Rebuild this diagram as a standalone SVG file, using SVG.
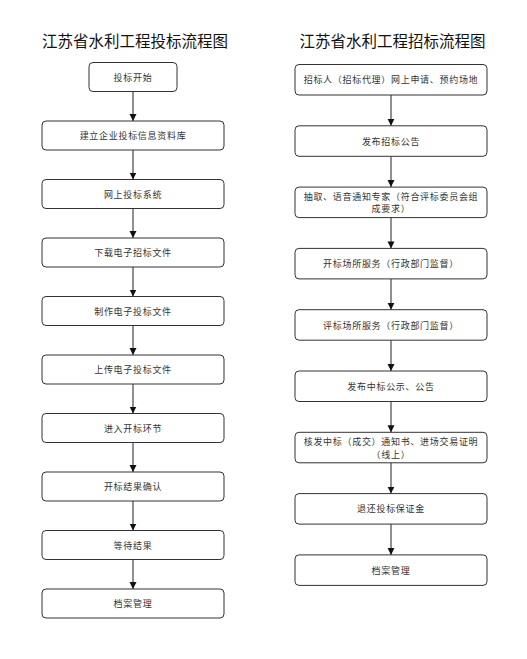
<svg xmlns="http://www.w3.org/2000/svg" width="527" height="659" viewBox="0 0 527 659">
<defs>
<style>
.t{font-family:"Noto Sans CJK SC","Noto Sans",sans-serif;font-size:15.5px;fill:#111;text-anchor:middle;dominant-baseline:central}
.b rect{fill:#fff;stroke:#333;stroke-width:1}
.b text{font-family:"Noto Sans CJK SC","Noto Sans",sans-serif;font-size:9px;letter-spacing:0.7px;fill:#333;text-anchor:middle;dominant-baseline:central}
.c line{stroke:#222;stroke-width:1;marker-end:url(#ah)}
</style>
<marker id="ah" markerUnits="userSpaceOnUse" markerWidth="8" markerHeight="8" refX="7" refY="3.5" orient="auto">
<path d="M0,0 L7,3.5 L0,7 z" fill="#111"/>
</marker>
</defs>
<rect width="527" height="659" fill="#fff"/>
<text class="t" x="135" y="40">江苏省水利工程投标流程图</text>
<text class="t" x="392.5" y="40">江苏省水利工程招标流程图</text>

<g id="connectors" class="c">
<line x1="133" y1="91.5" x2="133" y2="121"/>
<line x1="133" y1="150" x2="133" y2="179.5"/>
<line x1="133" y1="208.5" x2="133" y2="238"/>
<line x1="133" y1="267" x2="133" y2="296.5"/>
<line x1="133" y1="325.5" x2="133" y2="355"/>
<line x1="133" y1="384" x2="133" y2="413.5"/>
<line x1="133" y1="442.5" x2="133" y2="472"/>
<line x1="133" y1="501" x2="133" y2="530.5"/>
<line x1="133" y1="559.5" x2="133" y2="589"/>
<line x1="391" y1="95" x2="391" y2="125.8"/>
<line x1="391" y1="156.3" x2="391" y2="187.1"/>
<line x1="391" y1="217.6" x2="391" y2="248.4"/>
<line x1="391" y1="278.9" x2="391" y2="309.7"/>
<line x1="391" y1="340.2" x2="391" y2="371"/>
<line x1="391" y1="401.5" x2="391" y2="432.3"/>
<line x1="391" y1="462.8" x2="391" y2="493.6"/>
<line x1="391" y1="524.1" x2="391" y2="554.9"/>
</g>

<g id="L1" class="b"><rect x="89" y="62.5" width="88" height="29" rx="4"/><text x="133" y="77">投标开始</text></g>
<g id="L2" class="b"><rect x="42" y="121" width="182" height="29" rx="4"/><text x="133" y="135.5">建立企业投标信息资料库</text></g>
<g id="L3" class="b"><rect x="42" y="179.5" width="182" height="29" rx="4"/><text x="133" y="194">网上投标系统</text></g>
<g id="L4" class="b"><rect x="42" y="238" width="182" height="29" rx="4"/><text x="133" y="252.5">下载电子招标文件</text></g>
<g id="L5" class="b"><rect x="42" y="296.5" width="182" height="29" rx="4"/><text x="133" y="311">制作电子投标文件</text></g>
<g id="L6" class="b"><rect x="42" y="355" width="182" height="29" rx="4"/><text x="133" y="369.5">上传电子投标文件</text></g>
<g id="L7" class="b"><rect x="42" y="413.5" width="182" height="29" rx="4"/><text x="133" y="428">进入开标环节</text></g>
<g id="L8" class="b"><rect x="42" y="472" width="182" height="29" rx="4"/><text x="133" y="486.5">开标结果确认</text></g>
<g id="L9" class="b"><rect x="42" y="530.5" width="182" height="29" rx="4"/><text x="133" y="545">等待结果</text></g>
<g id="L10" class="b"><rect x="42" y="589" width="182" height="29" rx="4"/><text x="133" y="603.5">档案管理</text></g>

<g id="R1" class="b"><rect x="295" y="64.5" width="192" height="30.5" rx="4"/><text x="391" y="79.8">招标人（招标代理）网上申请、预约场地</text></g>
<g id="R2" class="b"><rect x="295" y="125.8" width="192" height="30.5" rx="4"/><text x="391" y="141">发布招标公告</text></g>
<g id="R3" class="b"><rect x="295" y="187.1" width="192" height="30.5" rx="4"/><text x="391" y="196.1">抽取、语音通知专家（符合评标委员会组</text><text x="391" y="208.9">成要求）</text></g>
<g id="R4" class="b"><rect x="295" y="248.4" width="192" height="30.5" rx="4"/><text x="391" y="263.6">开标场所服务（行政部门监督）</text></g>
<g id="R5" class="b"><rect x="295" y="309.7" width="192" height="30.5" rx="4"/><text x="391" y="325">评标场所服务（行政部门监督）</text></g>
<g id="R6" class="b"><rect x="295" y="371" width="192" height="30.5" rx="4"/><text x="391" y="386.2">发布中标公示、公告</text></g>
<g id="R7" class="b"><rect x="295" y="432.3" width="192" height="30.5" rx="4"/><text x="391" y="441.2">核发中标（成交）通知书、进场交易证明</text><text x="391" y="454">（线上）</text></g>
<g id="R8" class="b"><rect x="295" y="493.6" width="192" height="30.5" rx="4"/><text x="391" y="508.8">退还投标保证金</text></g>
<g id="R9" class="b"><rect x="295" y="554.9" width="192" height="30.5" rx="4"/><text x="391" y="570.1">档案管理</text></g>
</svg>
